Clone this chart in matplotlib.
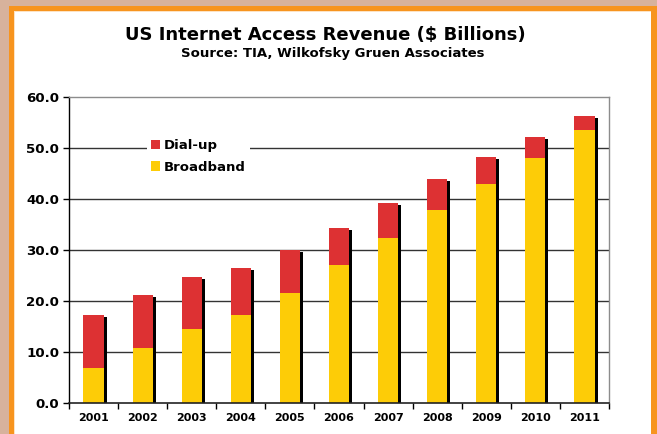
import matplotlib
matplotlib.use("Agg")
import matplotlib.pyplot as plt
import matplotlib.transforms as mtransforms
from matplotlib.patches import Rectangle, Patch
from matplotlib.ticker import FormatStrFormatter, FixedLocator
import numpy as np

# Revenue in $ billions
years = ["2001", "2002", "2003", "2004", "2005", "2006",
         "2007", "2008", "2009", "2010", "2011"]
broadband = [6.9, 10.8, 14.5, 17.3, 21.6, 27.1, 32.4, 37.8, 42.9, 48.0, 53.5]
dialup = [10.4, 10.4, 10.2, 9.2, 8.4, 7.2, 6.8, 6.1, 5.3, 4.2, 2.8]

RED = "#dd3133"
YELLOW = "#fdcc07"
ORANGE = "#f7941e"
TAN = "#d7b29c"

plt.rcParams["font.family"] = "DejaVu Sans"
plt.rcParams["font.weight"] = "bold"

W, H = 657, 434
fig = plt.figure(figsize=(W / 100, H / 100), dpi=100)
fig.patch.set_facecolor(TAN)

# orange frame with white panel inside
def px_rect(x0, y0, x1, y1, color):
    fig.patches.append(Rectangle((x0 / W, 1 - y1 / H), (x1 - x0) / W, (y1 - y0) / H,
                                 transform=fig.transFigure, facecolor=color,
                                 edgecolor="none", zorder=-5))

px_rect(9, 6, W, H, ORANGE)
px_rect(14, 11, 651, H, "#fde3c4")
px_rect(15, 12, 651, H, "white")

ax = fig.add_axes([69 / W, 31 / H, 540 / W, 306 / H])
ax.set_zorder(2)
ax.set_facecolor("white")

x = np.arange(len(years))
bb = np.array(broadband)
du = np.array(dialup)
total = bb + du
width = 0.41

# drop shadow behind each stacked bar
shadow = ax.bar(x, total, width=width, color="black", zorder=2)
offset = mtransforms.ScaledTranslation(0.03, -0.02, fig.dpi_scale_trans)
for p in shadow:
    p.set_transform(ax.transData + offset)

ax.bar(x, bb, width=width, color=YELLOW, zorder=3, label="Broadband")
ax.bar(x, du, width=width, bottom=bb, color=RED, zorder=3, label="Dial-up")

ax.set_xlim(-0.5, len(years) - 0.5)
ax.set_ylim(0, 60)

# gridlines
ax.set_yticks(np.arange(0, 61, 10))
ax.yaxis.set_major_formatter(FormatStrFormatter("%.1f"))
for v in range(10, 60, 10):
    ax.axhline(v, color="#333333", lw=1.0, zorder=1)

for s in ["top", "right"]:
    ax.spines[s].set_color("#8c8c8c")
    ax.spines[s].set_linewidth(1.0)
ax.spines["left"].set_color("black")
ax.spines["bottom"].set_color("#222222")
ax.spines["left"].set_linewidth(1.0)
ax.spines["bottom"].set_linewidth(1.2)
ax.spines["bottom"].set_zorder(4)

ax.tick_params(axis="y", length=4, width=1, labelsize=9.6, pad=3)

# year labels centered, tick marks between categories
ax.xaxis.set_major_locator(FixedLocator(np.arange(-0.5, len(years), 1.0)))
ax.xaxis.set_minor_locator(FixedLocator(x))
ax.xaxis.set_major_formatter(plt.NullFormatter())
ax.set_xticks(x, minor=True)
ax.set_xticklabels(years, minor=True)
ax.tick_params(axis="x", which="major", length=4, width=1)
ax.tick_params(axis="x", which="minor", length=0, labelsize=8, pad=7)

handles = [Patch(facecolor=RED, edgecolor="none", label="Dial-up"),
           Patch(facecolor=YELLOW, edgecolor="none", label="Broadband")]
leg = ax.legend(handles=handles, loc="upper left",
                bbox_to_anchor=(147 / W, 1 - 135 / H), bbox_transform=fig.transFigure,
                frameon=True, fancybox=False, framealpha=1, edgecolor="none",
                facecolor="white", prop={"size": 9.5, "weight": "bold"},
                handlelength=0.7, handleheight=0.7, handletextpad=0.3,
                labelspacing=0.65, borderpad=0.3, borderaxespad=0)
leg.set_zorder(5)

fig.text(325 / W, 1 - 35 / H, "US Internet Access Revenue ($ Billions)",
         ha="center", va="center", fontsize=13, fontweight="bold")
fig.text(333 / W, 1 - 53 / H, "Source: TIA, Wilkofsky Gruen Associates",
         ha="center", va="center", fontsize=9.5, fontweight="bold")

fig.savefig("out.png", dpi=100, facecolor=fig.get_facecolor())
